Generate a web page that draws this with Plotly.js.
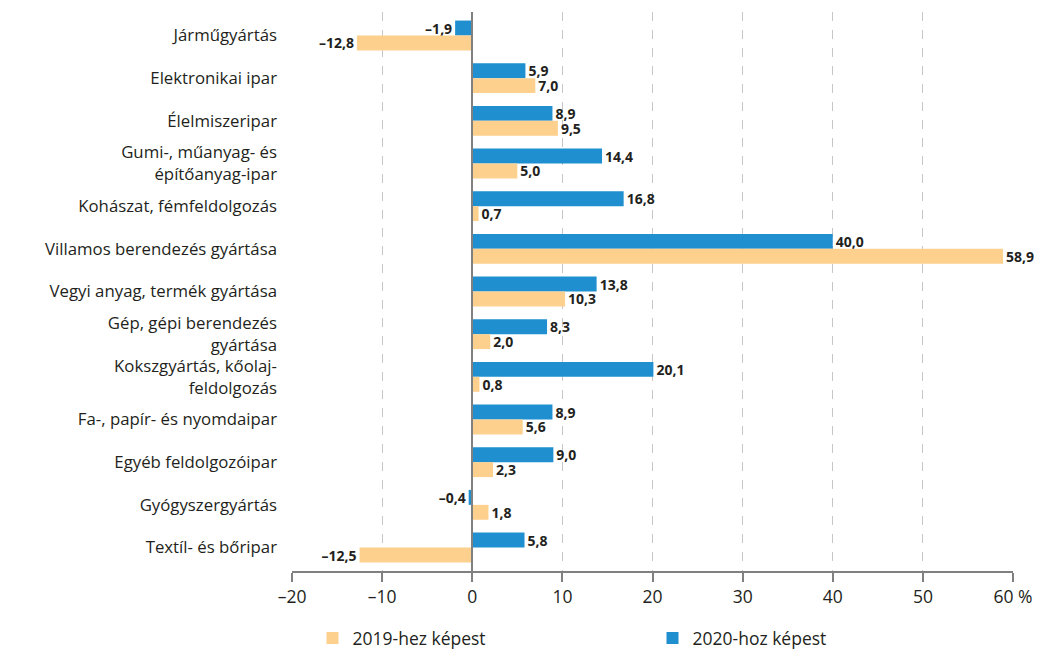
<!DOCTYPE html>
<html><head><meta charset="utf-8">
<script src="https://cdn.plot.ly/plotly-3.0.1.min.js"></script>
<style>body{margin:0;background:#fff}#c{width:1047px;height:650px}</style>
</head><body><div id="c"></div>
<script>
const categories = ["Járműgyártás","Elektronikai ipar","Élelmiszeripar","Gumi-, műanyag- és<br>építőanyag-ipar","Kohászat, fémfeldolgozás","Villamos berendezés gyártása","Vegyi anyag, termék gyártása","Gép, gépi berendezés<br>gyártása","Kokszgyártás, kőolaj-<br>feldolgozás","Fa-, papír- és nyomdaipar","Egyéb feldolgozóipar","Gyógyszergyártás","Textíl- és bőripar"];
const vs2020 = [-1.9,5.9,8.9,14.4,16.8,40.0,13.8,8.3,20.1,8.9,9.0,-0.4,5.8];
const vs2019 = [-12.8,7.0,9.5,5.0,0.7,58.9,10.3,2.0,0.8,5.6,2.3,1.8,-12.5];
const tickVals = [-20,-10,0,10,20,30,40,50,60];
const tickText = ["–20","–10","0","10","20","30","40","50","60 %"];
const seriesNames = ["2020-hoz képest","2019-hez képest"];

const fmt = v => (v<0?"–":"") + Math.abs(v).toFixed(1).replace(".",",");
const FONT = "'Open Sans', sans-serif";
const mk = (vals,name,color) => ({
  type:"bar", orientation:"h", y:categories, x:vals, name:name,
  marker:{color:color}, text:vals.map(fmt), textposition:"outside",
  constraintext:"none",
  textfont:{family:FONT,size:14,color:"#231f20",weight:"bold"},
  cliponaxis:false, hoverinfo:"x+y"
});
const data = [mk(vs2020,seriesNames[0],"#1f8fd0"), mk(vs2019,seriesNames[1],"#fdd08e")];
const layout = {
  width:1047, height:650,
  margin:{l:292,r:34,t:12,b:79,autoexpand:false},
  barmode:"group", bargap:0.3, bargroupgap:0,
  font:{family:FONT,size:16,color:"#231f20"},
  paper_bgcolor:"#fff", plot_bgcolor:"#fff",
  xaxis:{range:[-20,60], tickvals:tickVals, ticktext:tickText,
    showgrid:true, gridcolor:"#c6c6c6", griddash:"dash", gridwidth:1,
    zeroline:true, zerolinecolor:"#808080", zerolinewidth:2, zerolinelayer:"above traces",
    showline:true, linecolor:"#808080", linewidth:2,
    ticks:"outside", ticklen:9, tickwidth:2, tickcolor:"#808080",
    tickfont:{size:17.5}, fixedrange:true, automargin:false},
  yaxis:{categoryorder:"array", categoryarray:categories, autorange:false, range:[12.55,-0.55],
    showgrid:false, zeroline:false, showline:false, ticks:"", ticklabelstandoff:14,
    tickfont:{size:16.8}, fixedrange:true, automargin:false},
  showlegend:true,
  legend:{orientation:"h", x:0.5, xanchor:"center", y:-0.088, yanchor:"top",
    traceorder:"reversed", entrywidth:295, font:{size:17.5}},
};
Plotly.newPlot("c", data, layout, {displayModeBar:false, staticPlot:true});
</script></body></html>
